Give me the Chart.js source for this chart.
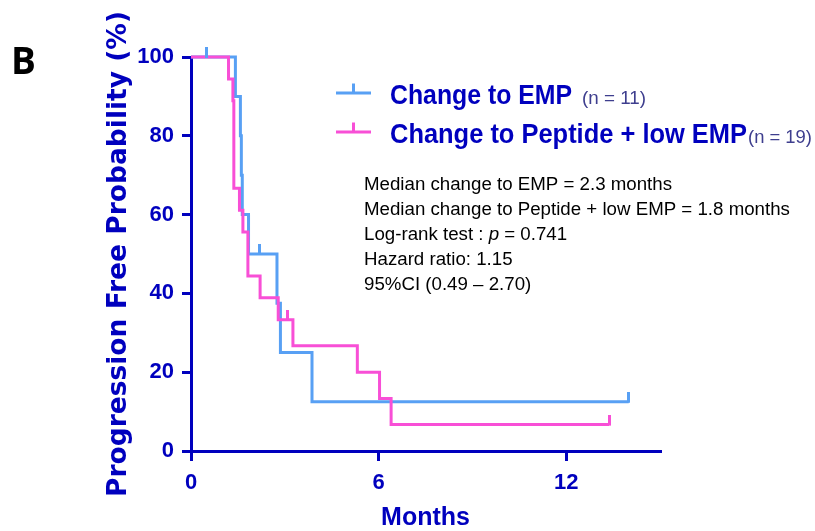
<!DOCTYPE html>
<html><head><meta charset="utf-8">
<script src="https://cdn.jsdelivr.net/npm/chart.js@4.4.1/dist/chart.umd.min.js"></script>
<style>html,body{margin:0;padding:0;background:#fff;}</style>
</head><body>
<canvas id="c" width="815" height="531"></canvas>
<script>
// ---- data ----
const seriesNames = ['Change to EMP', 'Change to Peptide + low EMP'];
const seriesN = ['(n = 11)', '(n = 19)'];
const empTimes = [0, 1.42, 1.58, 1.61, 1.64, 1.84, 2.75, 2.86, 3.87, 14.0];
const empSurv  = [100, 90, 80, 70, 60, 50, 37.5, 25, 12.5, 12.5];
const empCensorTimes = [0.49, 2.19, 14.0];
const empCensorSurv  = [100, 50, 12.5];
const pepTimes = [0, 1.2, 1.34, 1.37, 1.55, 1.66, 1.82, 2.21, 2.79, 3.26, 5.32, 6.03, 6.4, 13.37];
const pepSurv  = [100, 94.4, 88.9, 66.7, 61.1, 55.6, 44.4, 38.9, 33.3, 26.7, 20, 13.3, 6.7, 6.7];
const pepCensorTimes = [3.08, 13.37];
const pepCensorSurv  = [33.3, 6.7];
const xTicks = [0, 6, 12];
const yTicks = [0, 20, 40, 60, 80, 100];
const xTitle = 'Months';
const yTitle = 'Progression Free Probability (%)';
const panelLabel = 'B';
const statLines = [
  [['Median change to EMP = 2.3 months', false]],
  [['Median change to Peptide + low EMP = 1.8 months', false]],
  [['Log-rank test : ', false], ['p', true], [' = 0.741', false]],
  [['Hazard ratio: 1.15', false]],
  [['95%CI (0.49 \u2013 2.70)', false]]
];

// ---- styles ----
const AX = '#0000be';
const BLUE = '#58a0f4';
const PINK = '#f84fd6';
const SANS = "'Liberation Sans', Arial, sans-serif";

function toPts(xs, ys) { return xs.map((x, i) => ({x: x, y: ys[i]})); }
function censorMark(color) {
  const c = document.createElement('canvas');
  c.width = 3; c.height = 20;
  const g = c.getContext('2d');
  g.fillStyle = color;
  g.fillRect(0, 0, 3, 11);
  return c;
}
// draw text squeezed/stretched horizontally to a target width
function fitText(ctx, text, x, y, w) {
  const m = ctx.measureText(text).width;
  ctx.save();
  ctx.translate(x, y);
  ctx.scale(w / m, 1);
  ctx.fillText(text, 0, 0);
  ctx.restore();
}

const overlay = {
  id: 'overlay',
  afterDraw(chart) {
    const ctx = chart.ctx;
    ctx.save();
    ctx.textBaseline = 'alphabetic';
    ctx.textAlign = 'left';
    // panel label
    ctx.fillStyle = '#000';
    ctx.font = "bold 37px 'Open Sans', sans-serif";
    ctx.fillText(panelLabel, 11, 74);
    // legend
    const cols = [BLUE, PINK];
    const ys = [93, 132];
    const nameW = [182, 357];
    const nx = [582, 748];
    for (let i = 0; i < 2; i++) {
      const y = ys[i];
      ctx.strokeStyle = cols[i];
      ctx.lineWidth = 3;
      ctx.beginPath(); ctx.moveTo(336, y); ctx.lineTo(371, y); ctx.stroke();
      ctx.beginPath(); ctx.moveTo(353.5, y); ctx.lineTo(353.5, y - 9.5); ctx.stroke();
      ctx.fillStyle = AX;
      ctx.font = "bold 28px " + SANS;
      fitText(ctx, seriesNames[i], 390, y + 10.5, nameW[i]);
      ctx.fillStyle = '#3e3e8e';
      ctx.font = "19px " + SANS;
      fitText(ctx, seriesN[i], nx[i], y + 10.5, 64);
    }
    // statistics text
    ctx.fillStyle = '#000';
    const base = [190, 215, 240, 265, 290];
    statLines.forEach((parts, i) => {
      let x = 364;
      parts.forEach(([t, it]) => {
        ctx.font = (it ? 'italic ' : '') + "18.7px " + SANS;
        ctx.fillText(t, x, base[i]);
        x += ctx.measureText(t).width;
      });
    });
    ctx.restore();
  }
};

new Chart(document.getElementById('c'), {
  type: 'line',
  data: {
    datasets: [
      { label: seriesNames[0], data: toPts(empTimes, empSurv), borderColor: BLUE, borderWidth: 3,
        stepped: true, pointRadius: 0, fill: false, clip: false, order: 3 },
      { label: seriesNames[1], data: toPts(pepTimes, pepSurv), borderColor: PINK, borderWidth: 3,
        stepped: true, pointRadius: 0, fill: false, clip: false, order: 2 },
      { label: 'censor1', data: toPts(empCensorTimes, empCensorSurv), showLine: false,
        pointStyle: censorMark(BLUE), pointRadius: 3, clip: false, order: 1 },
      { label: 'censor2', data: toPts(pepCensorTimes, pepCensorSurv), showLine: false,
        pointStyle: censorMark(PINK), pointRadius: 3, clip: false, order: 0 }
    ]
  },
  options: {
    responsive: false,
    animation: false,
    devicePixelRatio: 1,
    layout: { padding: { top: 57, right: 155, left: 0, bottom: 0 } },
    plugins: { legend: { display: false }, tooltip: { enabled: false } },
    scales: {
      x: {
        type: 'linear', min: 0, max: 15,
        afterBuildTicks: s => { s.ticks = xTicks.map(v => ({ value: v })); },
        afterFit: s => { s.height = 80; },
        grid: { display: true, drawOnChartArea: false, drawTicks: true, tickLength: 10, tickWidth: 3, lineWidth: 3, color: AX, tickColor: AX },
        border: { display: true, width: 3, color: AX },
        ticks: { color: AX, font: { family: SANS, weight: 'bold', size: 22 }, padding: 9, maxRotation: 0 },
        title: { display: true, text: xTitle, color: AX, font: { family: SANS, weight: 'bold', size: 25, lineHeight: 1 }, padding: { top: 0, bottom: 0 } }
      },
      y: {
        type: 'linear', min: 0, max: 100,
        afterBuildTicks: s => { s.ticks = yTicks.map(v => ({ value: v })); },
        afterFit: s => { s.width = 191; },
        grid: { display: true, drawOnChartArea: false, drawTicks: true, tickLength: 9, tickWidth: 3, lineWidth: 3, color: AX, tickColor: AX },
        border: { display: true, width: 3, color: AX },
        ticks: { color: AX, font: { family: SANS, weight: 'bold', size: 22 }, padding: 8 },
        title: { display: true, text: yTitle, color: AX, font: { family: "'DejaVu Sans', sans-serif", weight: 'bold', size: 26.5, lineHeight: 1.2 }, padding: { top: 103, bottom: 0 } }
      }
    }
  },
  plugins: [overlay]
});
</script>
</body></html>
